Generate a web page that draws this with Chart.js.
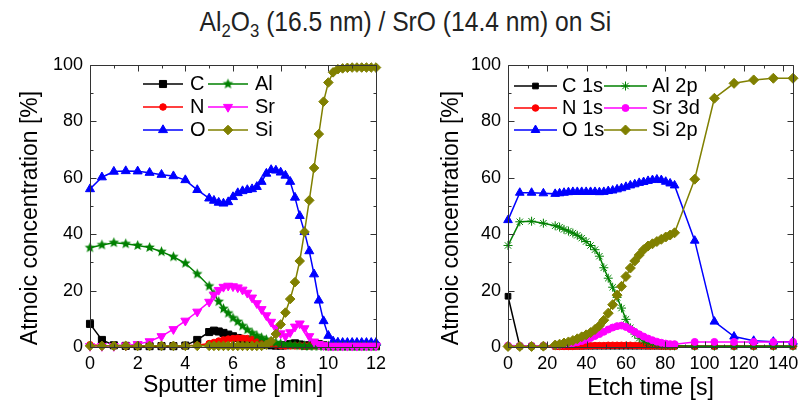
<!DOCTYPE html>
<html><head><meta charset="utf-8">
<script src="https://cdn.jsdelivr.net/npm/chart.js@4"></script>
<style>
html,body{margin:0;padding:0;background:#fff;}
body{width:811px;height:420px;position:relative;overflow:hidden;font-family:'Liberation Sans','Arial',sans-serif;}
#title{position:absolute;left:0;top:5px;width:811px;text-align:center;font-size:28px;color:#222;line-height:34px;transform:scaleX(0.88);transform-origin:405px 0;}
#title sub{font-size:19px;vertical-align:-6px;line-height:0;}
#c1{position:absolute;left:0;top:45px;width:405px;height:375px;}
#c2{position:absolute;left:405px;top:45px;width:406px;height:375px;}
</style></head><body>
<div id="title">Al<sub>2</sub>O<sub>3</sub> (16.5 nm) / SrO (14.4 nm) on Si</div>
<canvas id="c1" width="405" height="375"></canvas>
<canvas id="c2" width="406" height="375"></canvas>
<script>
// ---------- DATA ----------
const leftLabels = ['C', 'N', 'O', 'Al', 'Sr', 'Si'];
const rightLabels = ['C 1s', 'N 1s', 'O 1s', 'Al 2p', 'Sr 3d', 'Si 2p'];

const tLeft = [0,0.5,1,1.5,2,2.5,3,3.5,4,4.5,5,5.2,5.4,5.6,5.8,6,6.2,6.4,6.6,6.8,7,7.2,7.4,7.6,7.8,8,8.2,8.4,8.6,8.8,9,9.2,9.4,9.6,9.8,10,10.2,10.4,10.6,10.8,11,11.2,11.4,11.6,11.8,12];
const leftC  = [8.2,2.5,0.6,0.4,0.3,0.3,0.3,0.3,0.5,2.5,5.3, 5.8,5.5,5.0,4.4,3.8,3.2,2.6,2.1,1.6,1.2,0.9,0.7,0.6,0.5,0.5,0.6,1.0,1.3,0.9,0.5,0.6,0.9,1.0,0.6,0.3, 0.3,0.3,0.3,0.3,0.3,0.3,0.3,0.3,0.3,0.3];
const leftN  = [0.8,0.5,0.4,0.4,0.4,0.4,0.4,0.4,0.4,0.6,1.2, 1.6,2.1,2.5,2.8,3.0,3.1,3.1,3.0,2.8,2.5,2.1,1.6,1.1,0.7,0.5,0.4,0.4,0.4,0.4,0.4,0.4,0.4,0.4,0.4,0.4, 0.4,0.4,0.4,0.4,0.4,0.4,0.4,0.4,0.4,0.4];
const leftO  = [56,60.2,62.2,62.4,62.3,61.8,61.1,60.6,59.2,55.7,52.7, 51.9,51.2,50.9,51.4,53.2,54.6,55.3,55.7,56.0,56.8,58.6,61.5,62.8,62.6,61.9,60.8,58.6,53,46.5,40.8,34,25.8,16.5,9.2,4, 2,1.6,1.5,1.5,1.5,1.5,1.5,1.5,1.5,1.5];
const leftAl = [35.2,36.2,37,36.6,36,35.3,33.8,32,29.7,25.9,21.6, 18.8,16.1,13.6,12,10.3,9,7.5,6.1,5.0,4.0,3.3,2.6,2.0,1.5,1.2,1.0,0.8,0.6,0.5,0.4,0.3,0.3,0.3,0.3,0.3, 0.3,0.3,0.3,0.3,0.3,0.3,0.3,0.3,0.3,0.3];
const leftSr = [0.3,0.3,0.3,0.5,1.0,2.0,3.8,6.3,9.3,12.5,16, 18.5,20.2,21.3,21.7,21.5,21.1,20.3,19.2,17.5,15.5,13.4,11.2,8.9,6.7,4.8,3.8,5.2,7.2,8.3,6.6,3.8,1.9,1.0,0.6,0.4, 0.4,0.4,0.4,0.4,0.4,0.4,0.4,0.4,0.4,0.4];
const leftSi = [0.4,0.4,0.4,0.4,0.4,0.4,0.4,0.4,0.4,0.4,0.4, 0.4,0.4,0.4,0.4,0.4,0.4,0.4,0.4,0.4,0.4,0.4,0.8,2,4.6,8,12.2,17,23,30.5,40.8,52,63.5,75.5,87,93.8, 97.4,98.5,98.8,99,99.1,99.1,99.1,99.1,99.1,99.1];

const tRight = [0,6,12,18,24,26.25,28.5,30.75,33,35.25,37.5,39.75,42,44.25,46.5,48.75,51,53.25,55.5,57.75,60,62.25,64.5,66.75,69,71.25,73.5,75.75,78,80.25,82.5,84.75,95,105,115,125,135,145];
const rightC  = [18,0.3,0.3,0.3, 0.3,0.3,0.3,0.3,0.3,0.3,0.3,0.3,0.3,0.3,0.3,0.3,0.3,0.3,0.3,0.3,0.3,0.3,0.3,0.3,0.3,0.3,0.3,0.3,0.3,0.3,0.3,0.3, 0.3,0.3,0.3,0.3,0.3,0.3];
const rightN  = [0.2,0.2,0.2,0.2, 0.2,0.2,0.2,0.2,0.2,0.3,0.3,0.4,0.4,0.5,0.5,0.5,0.6,0.6,0.6,0.6,0.6,0.6,0.5,0.5,0.5,0.4,0.4,0.4,0.3,0.3,0.3,0.3, 0.3,0.3,0.3,0.3,0.3,0.3];
const rightO  = [45,54.7,54.7,54.5, 54.3,54.5,54.7,54.9,55,55,55,55,55,55,54.9,55,55.3,55.5,55.9,56.3,56.8,57.3,57.7,58.2,58.5,58.9,59.2,59.4,59.2,58.6,58,57.3, 37.7,9,3.7,2.2,1.9,1.9];
const rightAl = [36,44.4,44.6,43.9, 43,42.5,41.7,41.1,40.4,39.6,38.6,37.4,36,34.5,32.2,28.1,24.4,21.2,17.6,13.8,9.8,6.8,4.6,3.1,2.1,1.5,1.1,0.8,0.6,0.5,0.4,0.4, 0.3,0.3,0.3,0.3,0.3,0.3];
const rightSr = [0.5,0.4,0.4,0.4, 0.5,0.7,0.9,1.1,1.4,1.7,2.1,2.6,3.2,3.9,4.6,5.4,6.2,6.9,7.4,7.6,7.1,6.3,5.4,4.5,3.7,3.0,2.4,1.9,1.5,1.2,1.0,1.0, 1.8,1.8,1.8,1.8,1.8,1.8];
const rightSi = [0.2,0.2,0.2,0.3, 0.7,1.0,1.4,1.8,2.3,2.9,3.6,4.3,5.1,6.2,7.5,9.5,12,15,18.4,21.5,25,28,30.5,32.6,34.5,35.8,36.6,37.4,38.2,39,39.7,40.5, 59.5,88.2,93.5,94.7,95.3,95.3];

const leftXTicks = [0,2,4,6,8,10,12];
const leftXMinor = [1,3,5,7,9,11];
const rightXTicks = [0,20,40,60,80,100,120,140];
const rightXMinor = [10,30,50,70,90,110,130];
const yTicks = [0,20,40,60,80,100];
const yMinor = [10,30,50,70,90];

const titleY = 'Atmoic concentration [%]';
const titleXLeft = 'Sputter time [min]';
const titleXRight = 'Etch time [s]';

// ---------- STYLE ----------
const FONT = "'Liberation Sans', Arial, sans-serif";
Chart.defaults.font.family = FONT;
Chart.defaults.color = '#000';

const COL = {black:'#000000', red:'#ff0000', blue:'#0000ff', green:'#008000', magenta:'#ff00ff', olive:'#808000'};

function makeStar(color, R) {
  const c = document.createElement('canvas');
  const s = Math.ceil(R * 2 + 2);
  c.width = s; c.height = s;
  const g = c.getContext('2d');
  g.fillStyle = color;
  g.beginPath();
  for (let i = 0; i < 10; i++) {
    const r = i % 2 ? R * 0.45 : R;
    const a = -Math.PI / 2 + i * Math.PI / 5;
    const px = s / 2 + r * Math.cos(a), py = s / 2 + r * Math.sin(a);
    if (i) g.lineTo(px, py); else g.moveTo(px, py);
  }
  g.closePath(); g.fill();
  return c;
}
const starImg = makeStar(COL.green, 5.5);

function ds(label, t, v, color, style, radius, order, extra) {
  return Object.assign({
    label, data: t.map((x, i) => ({x, y: v[i]})),
    borderColor: color, backgroundColor: color,
    pointBackgroundColor: color, pointBorderColor: color,
    pointStyle: style, pointRadius: radius, pointBorderWidth: 1,
    borderWidth: 1.5, tension: 0, clip: false, order
  }, extra || {});
}

const framePlugin = {
  id: 'frameTicks',
  afterDatasetsDraw(chart, args, o) {
    const {ctx, chartArea: a} = chart;
    const xs = chart.scales.x, ys = chart.scales.y;
    ctx.save();
    ctx.strokeStyle = '#333'; ctx.lineWidth = 1;
    const L = Math.round(a.left) + 0.5, R = Math.round(a.right) + 0.5, T = Math.round(a.top) + 0.5, B = Math.round(a.bottom) + 0.5;
    ctx.beginPath();
    ctx.rect(L, T, R - L, B - T);
    const tick = (vals, len, isX) => vals.forEach(v => {
      if (isX) { const p = Math.round(xs.getPixelForValue(v)) + 0.5; ctx.moveTo(p, B); ctx.lineTo(p, B - len); ctx.moveTo(p, T); ctx.lineTo(p, T + len); }
      else { const p = Math.round(ys.getPixelForValue(v)) + 0.5; ctx.moveTo(L, p); ctx.lineTo(L + len, p); ctx.moveTo(R, p); ctx.lineTo(R - len, p); }
    });
    tick(o.xMajor, 6, true); tick(o.xMinor, 3, true); tick(o.yMajor, 6, false); tick(o.yMinor, 3, false);
    ctx.stroke();
    // rotated y-axis title
    ctx.save();
    ctx.translate(o.yTitleX, (a.top + a.bottom) / 2 + o.yTitleShift);
    ctx.rotate(-Math.PI / 2);
    ctx.fillStyle = '#000'; ctx.font = o.yTitleFont; ctx.textAlign = 'center'; ctx.textBaseline = 'middle';
    ctx.fillText(o.yTitle, 0, 0);
    ctx.restore();
    ctx.restore();
  }
};

const legendPlugin = {
  id: 'boxLegend',
  afterDraw(chart, args, o) {
    const {ctx, chartArea: a} = chart;
    ctx.save();
    chart.data.datasets.forEach((d, i) => {
      const col = Math.floor(i / 3), row = i % 3;
      const x0 = a.left + o.colX[col], y = a.top + o.rowY[row];
      ctx.strokeStyle = d.borderColor; ctx.lineWidth = d.borderWidth;
      ctx.beginPath(); ctx.moveTo(x0, y); ctx.lineTo(x0 + o.lineLen, y); ctx.stroke();
      ctx.fillStyle = d.pointBackgroundColor; ctx.strokeStyle = d.pointBorderColor; ctx.lineWidth = d.pointBorderWidth;
      Chart.helpers.drawPoint(ctx, {pointStyle: d.pointStyle, radius: d.pointRadius, rotation: d.pointRotation || 0, borderWidth: d.pointBorderWidth}, x0 + o.lineLen / 2, y);
      ctx.fillStyle = '#000'; ctx.font = o.font; ctx.textBaseline = 'middle'; ctx.textAlign = 'left';
      ctx.fillText(d.label, x0 + o.lineLen + o.gap, y);
    });
    ctx.restore();
  }
};

function makeChart(id, datasets, xMax, xTicks, xMinor, xTitle, opts) {
  return new Chart(document.getElementById(id), {
    type: 'line',
    data: {datasets},
    options: {
      responsive: false, animation: false, events: [],
      layout: {padding: {left: 0, top: opts.padTop, right: opts.padRight, bottom: 0}},
      plugins: {
        legend: {display: false}, tooltip: {enabled: false},
        frameTicks: {xMajor: xTicks, xMinor: xMinor, yMajor: yTicks, yMinor: yMinor,
          yTitle: titleY, yTitleX: opts.yTitleX, yTitleShift: 12, yTitleFont: '23px ' + FONT},
        boxLegend: opts.legend
      },
      scales: {
        x: {
          type: 'linear', min: 0, max: xMax,
          grid: {display: false, drawTicks: false}, border: {display: false},
          afterBuildTicks: s => { s.ticks = xTicks.map(v => ({value: v})); },
          afterFit: s => { s.height = opts.xAxisH; },
          ticks: {font: {size: 18}, padding: opts.xTickPad, maxRotation: 0, autoSkip: false, color: '#000'},
          title: {display: true, text: xTitle, font: {size: 23}, color: '#000', padding: {top: 0, bottom: opts.xTitlePad}}
        },
        y: {
          type: 'linear', min: 0, max: 100,
          grid: {display: false, drawTicks: false}, border: {display: false},
          afterBuildTicks: s => { s.ticks = yTicks.map(v => ({value: v})); },
          afterFit: s => { s.width = opts.yAxisW; },
          ticks: {font: {size: 18}, padding: 7, autoSkip: false, color: '#000'},
          title: {display: false}
        }
      }
    },
    plugins: [framePlugin, legendPlugin]
  });
}

const leftSets = [
  ds(leftLabels[0], tLeft, leftC, COL.black, 'rect', 5, 6),
  ds(leftLabels[1], tLeft, leftN, COL.red, 'circle', 3.3, 5),
  ds(leftLabels[2], tLeft, leftO, COL.blue, 'triangle', 5.2, 4),
  ds(leftLabels[3], tLeft, leftAl, COL.green, starImg, 5.5, 3),
  ds(leftLabels[4], tLeft, leftSr, COL.magenta, 'triangle', 5.2, 2, {pointRotation: 180}),
  ds(leftLabels[5], tLeft, leftSi, COL.olive, 'rectRot', 4.8, 1)
];
const rightSets = [
  ds(rightLabels[0], tRight, rightC, COL.black, 'rect', 4, 6),
  ds(rightLabels[1], tRight, rightN, COL.red, 'circle', 3.3, 5),
  ds(rightLabels[2], tRight, rightO, COL.blue, 'triangle', 5, 4),
  ds(rightLabels[3], tRight, rightAl, COL.green, 'star', 4.5, 3),
  ds(rightLabels[4], tRight, rightSr, COL.magenta, 'circle', 3.5, 2),
  ds(rightLabels[5], tRight, rightSi, COL.olive, 'rectRot', 5, 1)
];

makeChart('c1', leftSets, 12, leftXTicks, leftXMinor, titleXLeft, {
  padTop: 20, padRight: 29, xAxisH: 73, yAxisW: 90, xTickPad: 6, xTitlePad: 21, yTitleX: 31,
  legend: {colX: [53, 118], rowY: [19, 42, 65], lineLen: 40, gap: 7, font: "20px " + FONT}
});
makeChart('c2', rightSets, 145, rightXTicks, rightXMinor, titleXRight, {
  padTop: 20, padRight: 18, xAxisH: 73, yAxisW: 103, xTickPad: 6, xTitlePad: 18, yTitleX: 47,
  legend: {colX: [6, 96], rowY: [21, 43, 65], lineLen: 43, gap: 5, font: "20px " + FONT}
});
</script>
</body></html>
